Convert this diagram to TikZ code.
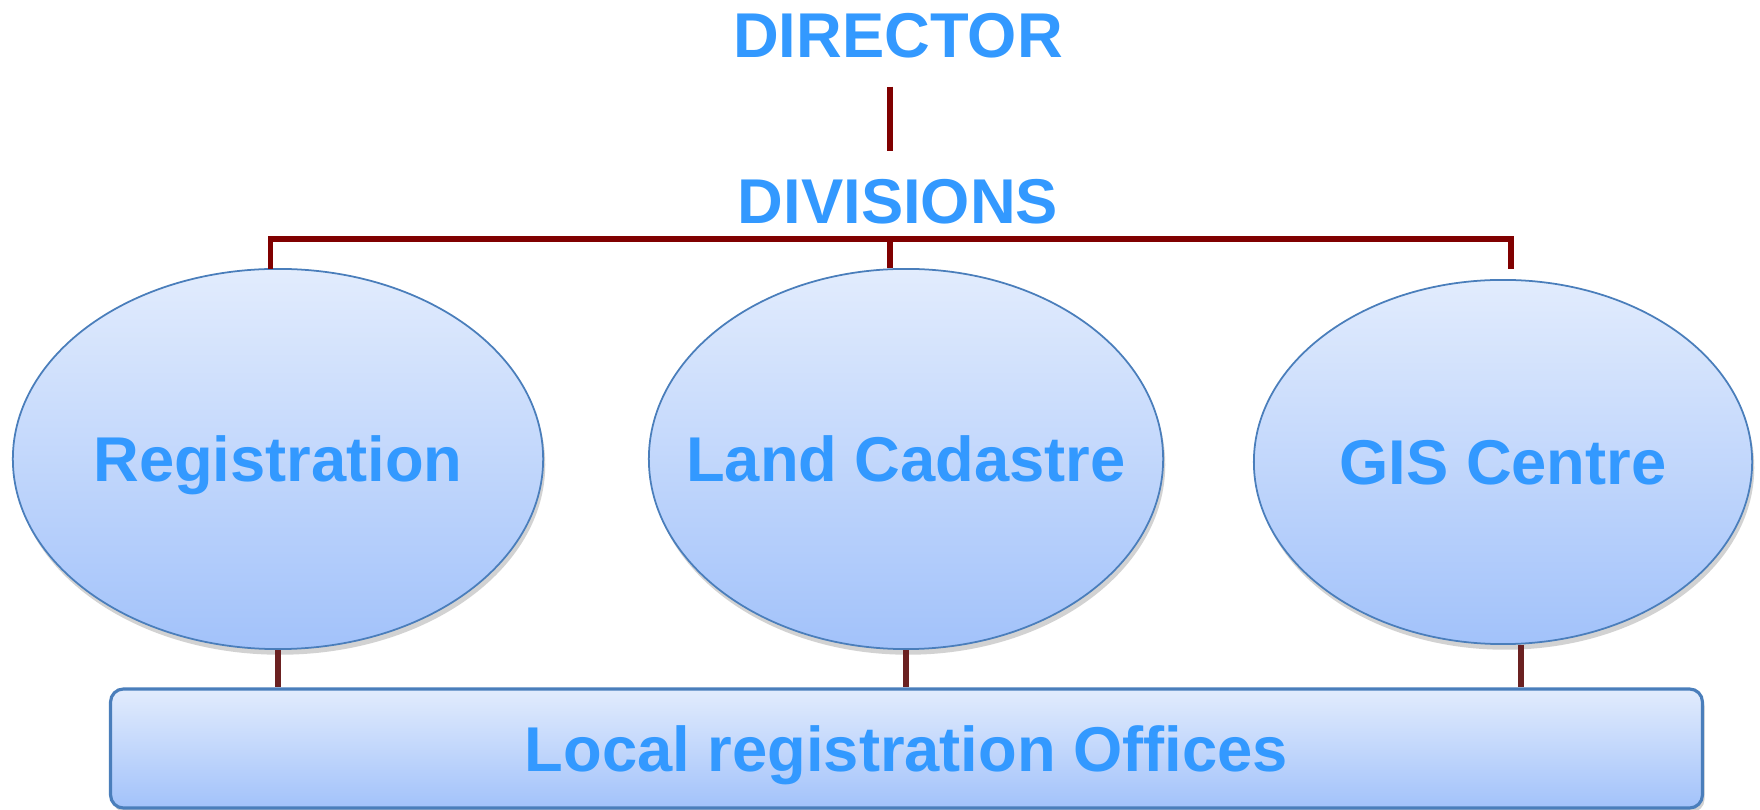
\documentclass[tikz,border=0pt]{standalone}
\usepackage{fontspec}
\setmainfont{Liberation Sans}
\usetikzlibrary{shapes.geometric}
\usetikzlibrary{shadows}
\usetikzlibrary{calc}

\definecolor{titleblue}{HTML}{3399FF}
\definecolor{linkred}{HTML}{800000}
\definecolor{footred}{HTML}{6B2121}
\definecolor{shadetop}{HTML}{E2ECFD}
\definecolor{shadebot}{HTML}{A2C2FA}
\definecolor{edgeblue}{HTML}{4A7EBB}

\begin{document}
\begin{tikzpicture}[x=0.01cm,y=-0.01cm,
  title/.style={text=titleblue, font=\bfseries\fontsize{18}{20}\selectfont, inner sep=0pt, text depth=0pt},
  division/.style={ellipse, draw=edgeblue, line width=.5pt, top color=shadetop, bottom color=shadebot, inner ysep=0pt, inner xsep=-1cm, text depth=0pt,
    text=titleblue, font=\bfseries\fontsize{18}{20}\selectfont,
    drop shadow={shadow xshift=.6pt, shadow yshift=-1.6pt, opacity=.25, fill=black!70}},
  office/.style={rectangle, rounded corners=.13cm, draw=edgeblue, line width=.9pt, top color=shadetop, bottom color=shadebot, inner sep=0pt, text depth=0pt,
    text=titleblue, font=\bfseries\fontsize{18}{20}\selectfont,
    drop shadow={shadow xshift=.6pt, shadow yshift=-1.2pt, opacity=.25, fill=black!70}},
  toplink/.style={draw=linkred, line width=1.5pt},
  footlink/.style={draw=footred, line width=1.5pt}]
\useasboundingbox (0,0) rectangle (1760,810);

\node[title, anchor=base] (director) at (898,58) {DIRECTOR};
\node[title, anchor=base] (divisions) at (898,224) {DIVISIONS};

\node[division, minimum width=5.30cm, minimum height=3.80cm] (reg) at (278,459) {Registration};
\node[division, minimum width=5.14cm, minimum height=3.80cm] (cad) at (906,459) {Land Cadastre};
\node[division, minimum width=4.98cm, minimum height=3.64cm] (gis) at (1503,462) {GIS Centre};

\node[office, minimum width=15.91cm, minimum height=1.19cm] (offices) at (906.5,748.5) {Local registration Offices};

\coordinate (stem) at (890,239);
\coordinate (busL) at (270.5,269);
\coordinate (busR) at (1511,269);
\coordinate (gisfoot) at (1521,0);

\draw[toplink, shorten <=.28cm, shorten >=.28cm] (stem |- director.south) -- (stem |- divisions.north);
\draw[toplink] (busL) -- (busL |- stem) -- (busR |- stem) -- (busR);
\draw[toplink] (stem) -- (stem |- cad.north);

\draw[footlink] (reg.south) -- (reg.south |- offices.north);
\draw[footlink] (cad.south) -- (cad.south |- offices.north);
\draw[footlink] (gisfoot |- gis.south) -- (gisfoot |- offices.north);
\end{tikzpicture}
\end{document}
